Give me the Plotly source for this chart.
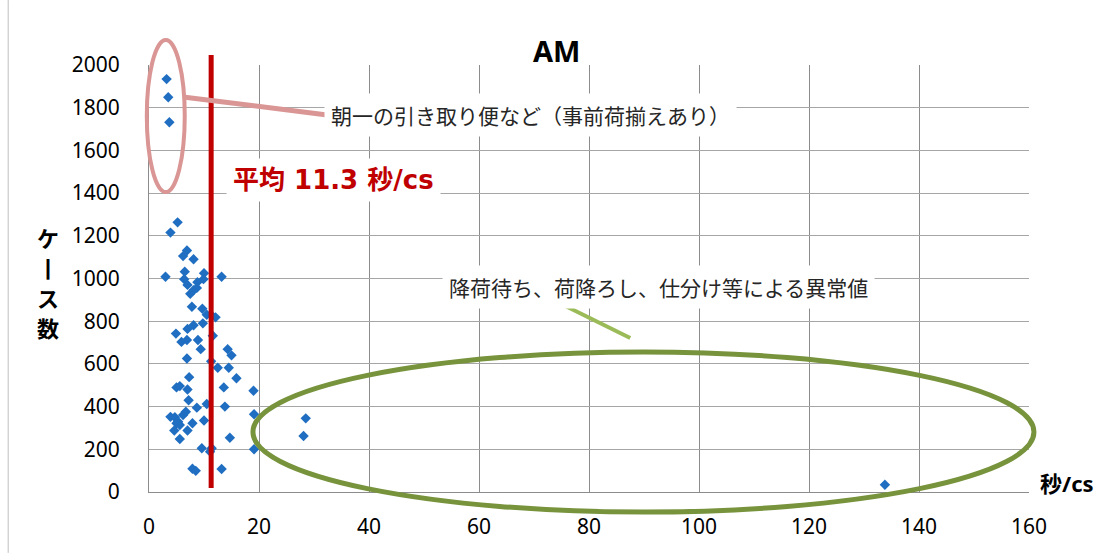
import plotly.graph_objects as go

# 秒/cs (x) and ケース数 (y) per operation
sec_per_case = [
    3.2, 3.5, 3.7, 5.2, 3.9, 6.9, 6.2, 8.1, 3.0, 6.5,
    6.4, 10.0, 9.9, 13.2, 7.0, 7.5, 8.1, 8.8, 8.7, 7.8,
    9.7, 10.5, 11.3, 12.1, 9.8, 8.1, 7.0, 4.9, 5.9, 6.9,
    8.9, 11.6, 9.4, 14.3, 15.0, 6.9, 11.3, 12.5, 14.5, 15.9,
    7.3, 5.0, 5.6, 7.0, 13.6, 19.0, 7.2, 10.5, 8.7, 13.8,
    19.1, 3.9, 4.7, 6.2, 6.7, 5.3, 5.6, 5.0, 7.9, 10.0,
    4.6, 7.0, 5.6, 14.7, 9.6, 11.4, 11.1, 19.1, 7.9, 8.5,
    13.2, 28.5, 28.1, 133.8,
]
cases = [
    1934, 1849, 1732, 1263, 1215, 1131, 1105, 1090, 1008, 1032,
    997, 1025, 997, 1008, 970, 928, 945, 983, 956, 868,
    858, 830, 829, 818, 790, 781, 764, 742, 703, 712,
    712, 732, 669, 669, 640, 625, 612, 582, 582, 533,
    538, 490, 496, 480, 490, 474, 430, 412, 395, 400,
    364, 352, 350, 361, 376, 329, 314, 322, 322, 335,
    288, 288, 248, 254, 205, 205, 189, 200, 109, 99,
    108, 345, 262, 34,
]

mean_sec = 11.3
x_ticks = [0, 20, 40, 60, 80, 100, 120, 140, 160]
y_ticks = [0, 200, 400, 600, 800, 1000, 1200, 1400, 1600, 1800, 2000]

# vertical y-axis title, one character per row
y_title_chars = ["ケ", "丨", "ス", "数"]
y_title_rows = [1194, 1054, 914, 773]

X_MAX, Y_MAX = 160, 2000
JP = "Noto Sans CJK JP"


def px(x):
    """seconds -> paper x"""
    return x / X_MAX


def py(y):
    """cases -> paper y"""
    return y / Y_MAX


fig = go.Figure()
fig.add_trace(go.Scatter(
    x=sec_per_case, y=cases, mode="markers",
    marker=dict(symbol="diamond", size=8, color="#1F6EC1"),
    cliponaxis=False, showlegend=False,
))

shapes = [
    # chart-area left border
    dict(type="line", xref="paper", yref="paper",
         x0=px(-25.6), x1=px(-25.6), y0=py(2304), y1=py(-285),
         line=dict(color="#BFBFBF", width=1)),
    # average line
    dict(type="line", xref="paper", yref="paper",
         x0=px(mean_sec), x1=px(mean_sec), y0=py(19), y1=py(2047),
         line=dict(color="#C00000", width=5), layer="above"),
    # early-morning pickups callout
    dict(type="circle", xref="paper", yref="paper",
         x0=px(-0.4), x1=px(6.5), y0=py(1405), y1=py(2117),
         line=dict(color="#D99694", width=4), layer="above"),
    dict(type="line", xref="paper", yref="paper",
         x0=px(6.2), y0=py(1850), x1=px(32.4), y1=py(1766),
         line=dict(color="#D99694", width=5), layer="above"),
    # outlier callout
    dict(type="circle", xref="paper", yref="paper",
         x0=px(18.9), x1=px(160.9), y0=py(-94), y1=py(656),
         line=dict(color="#77933C", width=5), layer="above"),
    dict(type="line", xref="paper", yref="paper",
         x0=px(73.5), y0=py(899), x1=px(87.5), y1=py(721),
         line=dict(color="#9BBB59", width=4), layer="above"),
]


def label(x, y, text, font, xanchor="left", **kw):
    return dict(xref="paper", yref="paper", x=px(x), y=py(y), text=text,
                showarrow=False, font=font, xanchor=xanchor,
                yanchor="middle", **kw)


annotations = [
    label(74.0, 2070, "<b>AM</b>",
          dict(family="Noto Sans", size=29, color="#000000"), xanchor="center"),
    label(161.6, 42, "<b>秒/cs</b>",
          dict(family="Noto Sans, " + JP, size=22, color="#000000")),
    label(14.0, 1461, f"<b>平均 {mean_sec} 秒/cs</b>",
          dict(family="DejaVu Sans, " + JP, size=26, color="#C00000"),
          bgcolor="#FFFFFF", borderpad=6),
    label(31.8, 1766, "朝一の引き取り便など（事前荷揃えあり）",
          dict(family=JP, size=21, color="#262626"),
          bgcolor="#FFFFFF", borderpad=6),
    label(53.3, 960, "降荷待ち、荷降ろし、仕分け等による異常値",
          dict(family=JP, size=21, color="#262626"),
          bgcolor="#FFFFFF", borderpad=6),
]
for ch, row in zip(y_title_chars, y_title_rows):
    annotations.append(label(-18.4, row, f"<b>{ch}</b>",
                             dict(family=JP, size=22, color="#000000"),
                             xanchor="center", height=26, borderpad=0))

fig.update_layout(
    width=1102, height=555,
    margin=dict(l=149, r=73, t=65, b=63),
    paper_bgcolor="#FFFFFF", plot_bgcolor="#FFFFFF",
    shapes=shapes, annotations=annotations,
    font=dict(family="Noto Sans", color="#000000"),
)
fig.update_xaxes(
    range=[0, X_MAX], tickvals=x_ticks, ticks="",
    showgrid=True, gridcolor="#8C8C8C", gridwidth=1,
    showline=True, linecolor="#8C8C8C", linewidth=1,
    zeroline=False, tickfont=dict(size=21, color="#000000"),
    ticklabelstandoff=16,
)
fig.update_yaxes(
    range=[0, Y_MAX], tickvals=y_ticks, ticks="",
    showgrid=True, gridcolor="#A6A6A6", gridwidth=1,
    showline=True, linecolor="#8C8C8C", linewidth=1,
    zeroline=False, tickfont=dict(size=21, color="#000000"),
    ticklabelstandoff=24,
)

fig.write_html("out.html")
